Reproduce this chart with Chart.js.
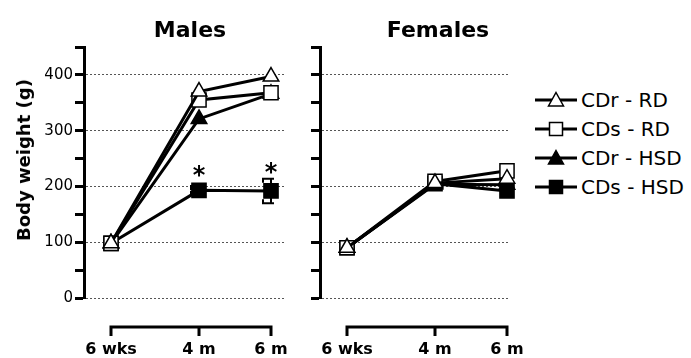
<!DOCTYPE html>
<html>
<head>
<meta charset="utf-8">
<script src="https://cdn.jsdelivr.net/npm/chart.js@4.4.0/dist/chart.umd.min.js"></script>
<style>
  html, body { margin: 0; padding: 0; background: #fff; }
  #wrap { position: relative; width: 691px; height: 358px; overflow: hidden;
          font-family: "DejaVu Sans", sans-serif; color: #000; }
  .panel { position: absolute; top: 0; height: 358px; }
  .ttl { position: absolute; font-weight: bold; font-size: 22px; line-height: 22px;
         white-space: nowrap; transform: translateX(-50%); }
  #ylab { position: absolute; left: 24px; top: 160px; font-weight: bold; font-size: 18px;
          line-height: 20px; white-space: nowrap; transform: translate(-50%, -50%) rotate(-90deg); }
  .lg { position: absolute; left: 535px; height: 24px; display: flex; align-items: center;
        white-space: nowrap; font-size: 20px; }
  .lg svg { display: block; margin-right: 4px; }
</style>
</head>
<body>
<div id="wrap">
  <div class="panel" style="left:0;width:290px"><canvas id="cm" width="290" height="358"></canvas></div>
  <div class="panel" style="left:290px;width:240px"><canvas id="cf" width="240" height="358"></canvas></div>
  <div class="ttl" id="tm" style="left:190px;top:19px"></div>
  <div class="ttl" id="tf" style="left:438px;top:19px"></div>
  <div id="ylab"></div>
  <div id="legend"></div>
</div>
<script>
// Sampling ages (weeks of age) and their axis labels
const ageWeeks = [6, 17, 26];
const timeLabels = ['6 wks', '4 m', '6 m'];
const panelTitles = ['Males', 'Females'];
const yAxisTitle = 'Body weight (g)';
const yTickStep = 50;
const yMax = 450;
const yLabelled = [0, 100, 200, 300, 400];

// Groups (strain - diet)
const seriesNames = ['CDr - RD', 'CDs - RD', 'CDr - HSD', 'CDs - HSD'];
const markerShapes = ['triangle', 'rect', 'triangle', 'rect'];
const markerFills = ['#ffffff', '#ffffff', '#000000', '#000000'];

// Body weight (g), males
const maleCDrRD  = [98, 370, 397];
const maleCDsRD  = [98, 355, 368];
const maleCDrHSD = [98, 321, 366];
const maleCDsHSD = [98, 193, 192];
const maleCDsHSDsem = [0, 8, 22];
const maleCDsHSDsig = [false, true, true];

// Body weight (g), females
const femaleCDrRD  = [90, 206, 214];
const femaleCDsRD  = [90, 209, 228];
const femaleCDrHSD = [90, 204, 203];
const femaleCDsHSD = [90, 205, 192];

const FONT = '"DejaVu Sans", sans-serif';

function makeDataset(i, values) {
  return {
    label: seriesNames[i],
    data: ageWeeks.map((w, k) => ({ x: w, y: values[k] })),
    borderColor: '#000',
    borderWidth: 3,
    tension: 0,
    pointStyle: markerShapes[i],
    pointRadius: markerShapes[i] === 'rect' ? 10 : 9,
    pointHoverRadius: markerShapes[i] === 'rect' ? 10 : 9,
    pointBackgroundColor: markerFills[i],
    pointBorderColor: '#000',
    pointBorderWidth: 1.5,
    clip: false
  };
}

// Bracket-style time axis drawn below the plot, from the first to the last age
const bracketAxis = {
  id: 'bracketAxis',
  afterDraw(chart) {
    const xs = chart.scales.x;
    const ctx = chart.ctx;
    const y0 = chart.chartArea.bottom + 29;
    const px = ageWeeks.map(w => xs.getPixelForValue(w));
    ctx.save();
    ctx.strokeStyle = '#000';
    ctx.lineWidth = 3;
    ctx.lineJoin = 'miter';
    ctx.beginPath();
    ctx.moveTo(px[0], y0 + 9);
    ctx.lineTo(px[0], y0);
    ctx.lineTo(px[px.length - 1], y0);
    ctx.lineTo(px[px.length - 1], y0 + 9);
    for (let k = 1; k < px.length - 1; k++) {
      ctx.moveTo(px[k], y0);
      ctx.lineTo(px[k], y0 + 9);
    }
    ctx.stroke();
    ctx.restore();
  }
};

// SEM bars and significance stars for the CDs - HSD males
const semAndStars = {
  id: 'semAndStars',
  beforeDatasetsDraw(chart) {
    const xs = chart.scales.x, ys = chart.scales.y, ctx = chart.ctx;
    ctx.save();
    ctx.strokeStyle = '#000';
    ctx.lineWidth = 2;
    maleCDsHSD.forEach((v, k) => {
      const e = maleCDsHSDsem[k];
      if (!e) return;
      const x = xs.getPixelForValue(ageWeeks[k]);
      const yt = ys.getPixelForValue(v + e), yb = ys.getPixelForValue(v - e);
      ctx.beginPath();
      ctx.moveTo(x, yt); ctx.lineTo(x, yb);
      ctx.moveTo(x + 3, yt); ctx.lineTo(x - 8, yt); ctx.lineTo(x - 8, yt + 4);
      ctx.moveTo(x + 3, yb); ctx.lineTo(x - 8, yb); ctx.lineTo(x - 8, yb - 4);
      ctx.stroke();
    });
    ctx.restore();
  },
  afterDatasetsDraw(chart) {
    const xs = chart.scales.x, ys = chart.scales.y, ctx = chart.ctx;
    ctx.save();
    ctx.fillStyle = '#000';
    ctx.font = 'bold 24px ' + FONT;
    ctx.textAlign = 'center';
    ctx.textBaseline = 'alphabetic';
    maleCDsHSD.forEach((v, k) => {
      if (!maleCDsHSDsig[k]) return;
      const x = xs.getPixelForValue(ageWeeks[k]);
      const cy = Math.min(ys.getPixelForValue(v + maleCDsHSDsem[k]) - 12, ys.getPixelForValue(v) - 20);
      ctx.fillText('*', x, cy + 13);
    });
    ctx.restore();
  }
};

function makeChart(canvasId, series, yWidth, xMax, padRight, showYLabels, extraPlugins) {
  return new Chart(document.getElementById(canvasId), {
    type: 'line',
    data: { datasets: series.map((vals, i) => makeDataset(i, vals)) },
    options: {
      responsive: false,
      animation: false,
      events: [],
      layout: { autoPadding: false, padding: { left: 0, right: padRight, top: 47, bottom: 0 } },
      plugins: { legend: { display: false }, title: { display: false }, tooltip: { enabled: false } },
      scales: {
        x: {
          type: 'linear',
          min: 2.625,
          max: xMax,
          afterBuildTicks(scale) { scale.ticks = ageWeeks.map(v => ({ value: v })); },
          afterFit(scale) {
            scale.height = 60;
            scale.paddingLeft = 0; scale.paddingRight = 0;
            scale.paddingTop = 0; scale.paddingBottom = 0;
          },
          grid: { display: false, drawTicks: false },
          border: { display: false },
          ticks: {
            autoSkip: false,
            maxRotation: 0,
            padding: 42,
            color: '#000',
            font: { family: FONT, size: 16, weight: 'bold' },
            callback: (v) => timeLabels[ageWeeks.indexOf(v)]
          }
        },
        y: {
          min: 0,
          max: yMax,
          afterFit(scale) {
            scale.width = yWidth;
            scale.paddingLeft = 0; scale.paddingRight = 0;
            scale.paddingTop = 0; scale.paddingBottom = 0;
          },
          ticks: {
            stepSize: yTickStep,
            padding: 2,
            color: '#000',
            font: { family: FONT, size: 15 },
            callback: (v) => (showYLabels && yLabelled.includes(v)) ? String(v) : ''
          },
          grid: {
            drawOnChartArea: true,
            drawTicks: true,
            lineWidth: 1,
            color: (c) => (c.tick && yLabelled.includes(c.tick.value)) ? '#555' : 'rgba(0,0,0,0)',
            tickColor: '#000',
            tickWidth: 3,
            tickLength: 9
          },
          border: { display: true, color: '#000', width: 3, dash: [2, 2] }
        }
      }
    },
    plugins: [bracketAxis].concat(extraPlugins)
  });
}

makeChart('cm', [maleCDrRD, maleCDsRD, maleCDrHSD, maleCDsHSD], 84, 27.875, 4, true, [semAndStars]);
makeChart('cf', [femaleCDrRD, femaleCDsRD, femaleCDrHSD, femaleCDsHSD], 30, 26.125, 22, false, []);

// Titles
document.getElementById('tm').textContent = panelTitles[0];
document.getElementById('tf').textContent = panelTitles[1];
document.getElementById('ylab').textContent = yAxisTitle;

// Legend: line segment with the group's marker, then the group name
const legendRowsY = [100, 129, 158, 187];
const legend = document.getElementById('legend');
const svgNS = 'http://www.w3.org/2000/svg';
seriesNames.forEach((name, i) => {
  const row = document.createElement('div');
  row.className = 'lg';
  row.style.top = (legendRowsY[i] - 12) + 'px';
  const svg = document.createElementNS(svgNS, 'svg');
  svg.setAttribute('width', '42');
  svg.setAttribute('height', '20');
  const ln = document.createElementNS(svgNS, 'line');
  ln.setAttribute('x1', '0'); ln.setAttribute('x2', '42');
  ln.setAttribute('y1', '10'); ln.setAttribute('y2', '10');
  ln.setAttribute('stroke', '#000'); ln.setAttribute('stroke-width', '3');
  svg.appendChild(ln);
  let mk;
  if (markerShapes[i] === 'rect') {
    mk = document.createElementNS(svgNS, 'rect');
    mk.setAttribute('x', '14.5'); mk.setAttribute('y', '3.5');
    mk.setAttribute('width', '13'); mk.setAttribute('height', '13');
  } else {
    mk = document.createElementNS(svgNS, 'polygon');
    mk.setAttribute('points', '21,2.5 28.5,16 13.5,16');
  }
  mk.setAttribute('fill', markerFills[i]);
  mk.setAttribute('stroke', '#000');
  mk.setAttribute('stroke-width', '1.5');
  svg.appendChild(mk);
  const txt = document.createElement('span');
  txt.textContent = name;
  row.appendChild(svg);
  row.appendChild(txt);
  legend.appendChild(row);
});
</script>
</body>
</html>
